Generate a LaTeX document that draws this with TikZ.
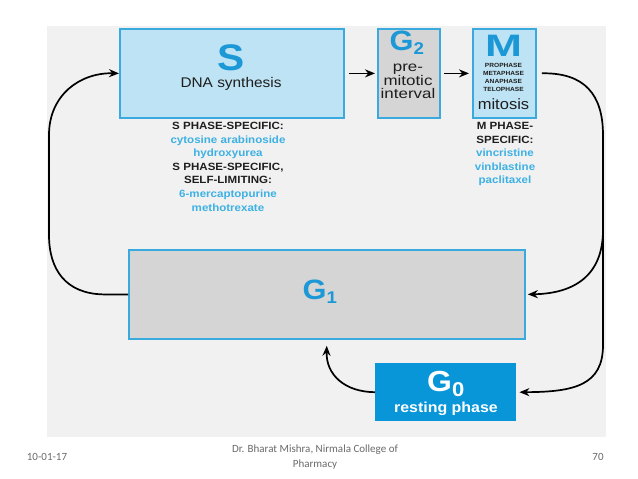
\documentclass[tikz,border=0pt]{standalone}
\usepackage{fontspec}
\setmainfont{Liberation Sans}[FakeStretch=1.1]
\newfontfamily\footfont{Carlito}
\usetikzlibrary{arrows.meta,calc}
\definecolor{panel}{HTML}{F1F1F1}
\definecolor{bord}{HTML}{3AA9DE}
\definecolor{lblue}{HTML}{BEE3F4}
\definecolor{gfill}{HTML}{D5D5D5}
\definecolor{tblue}{HTML}{1C98D6}
\definecolor{dblue}{HTML}{3DB1E4}
\definecolor{g0fill}{HTML}{0896D8}
\definecolor{foot}{HTML}{6A6A6A}
\definecolor{ink}{HTML}{1E1E1E}
\begin{document}
\begin{tikzpicture}[x=1pt,y=-1pt,
  box/.style={draw=bord, line width=1.8pt, inner sep=0pt, anchor=north west},
  conn/.style={line width=1.7pt, black},
  arr/.style={conn, -{Stealth[length=10pt,width=8pt]}},
  txt/.style={inner sep=0pt, align=center, text=ink},
  big/.style={txt, text=tblue, font=\bfseries\fontsize{28}{30}\selectfont},
  drug/.style={txt, anchor=north, font=\bfseries\fontsize{10.5}{13.6}\selectfont},
  foottxt/.style={inner sep=0pt, align=center, text=foot, font=\footfont\fontsize{11}{15}\selectfont}]
\useasboundingbox (0,0) rectangle (638,479);
\fill[white] (0,0) rectangle (638,479);
\fill[panel] (47,26) rectangle (606,437);
% boxes
\node[box, fill=lblue, minimum width=224pt, minimum height=89pt] (S) at (119,28) {};
\node[box, fill=gfill, minimum width=62pt, minimum height=89pt] (G2) at (377,28) {};
\node[box, fill=lblue, minimum width=63pt, minimum height=89pt] (M) at (472,28) {};
\node[box, fill=gfill, minimum width=396pt, minimum height=89pt] (G1) at (128,249) {};
\node[fill=g0fill, inner sep=0pt, anchor=north west, minimum width=141pt, minimum height=58pt] (G0) at (375,363) {};
% texts in boxes
\node[big, font=\bfseries\fontsize{37}{40}\selectfont] (St) at (231,58) {S};
\node[txt, font=\fontsize{14}{16}\selectfont] (Sd) at (231,84) {DNA synthesis};
\node[big] (G2t) at (407,43) {G\textsubscript{\fontsize{17}{18}\selectfont 2}};
\node[txt, font=\fontsize{14}{13.6}\selectfont, anchor=north] (G2d) at (408,64) {\scalebox{1.1}[1]{pre-}\\\scalebox{1.1}[1]{mitotic}\\\scalebox{1.1}[1]{interval}};
\node[big, font=\bfseries\fontsize{31}{33}\selectfont] (Mt) at (503.5,46) {\scalebox{1.3}[1]{M}};
\node[txt, font=\bfseries\fontsize{6}{8}\selectfont, anchor=north] (Mp) at (503.5,63.5) {PROPHASE\\METAPHASE\\ANAPHASE\\TELOPHASE};
\node[txt, font=\fontsize{15}{16}\selectfont] (Mm) at (503.5,104) {mitosis};
\node[big] (G1t) at (320,292) {G\textsubscript{\fontsize{17}{18}\selectfont 1}};
\node[big, text=white, font=\bfseries\fontsize{29}{30}\selectfont] (G0t) at (446,384) {G\textsubscript{\fontsize{20}{20}\selectfont 0}};
\node[txt, text=white, font=\bfseries\fontsize{14.5}{16}\selectfont] (G0d) at (446,409) {resting phase};
% drug lists
\node[drug] (Sdrug) at (228,122) {S PHASE-SPECIFIC:\\
\textcolor{dblue}{cytosine arabinoside}\\
\textcolor{dblue}{hydroxyurea}\\
S PHASE-SPECIFIC,\\
SELF-LIMITING:\\
\textcolor{dblue}{6-mercaptopurine}\\
\textcolor{dblue}{methotrexate}};
\node[drug] (Mdrug) at (505,122) {M PHASE-\\SPECIFIC:\\
\textcolor{dblue}{vincristine}\\
\textcolor{dblue}{vinblastine}\\
\textcolor{dblue}{paclitaxel}};
% connectors
\draw[arr, shorten <=4pt, shorten >=2pt] (S.east) -- (G2.west);
\draw[arr, shorten <=3pt, shorten >=3pt] (G2.east) -- (M.west);
\draw[arr] (G1.west) -- ++(-25,0) .. controls (66,293.5) and (49,270) .. (49,235) -- (49,135) .. controls (49,95) and (80,72.5) .. (S.west);
\draw[arr, shorten <=5pt, shorten >=3pt] (M.east) .. controls (585,72.5) and (603,95) .. (603,135) -- (603,345) .. controls (603,385) and (575,392) .. (G0.east);
\coordinate (R1) at (603,230);
\draw[arr, shorten >=2pt] (R1) .. controls (603,275) and (575,293.5) .. (G1.east);
\draw[arr, shorten >=6pt] (G0.west) .. controls (345,392) and (326,375) .. (G1.south);
% footer
\node[foottxt] (date) at (47,457) {10-01-17};
\node[foottxt] (auth) at (315,457) {Dr. Bharat Mishra, Nirmala College of\\Pharmacy};
\node[foottxt] (page) at (598,457) {70};
\end{tikzpicture}
\end{document}
